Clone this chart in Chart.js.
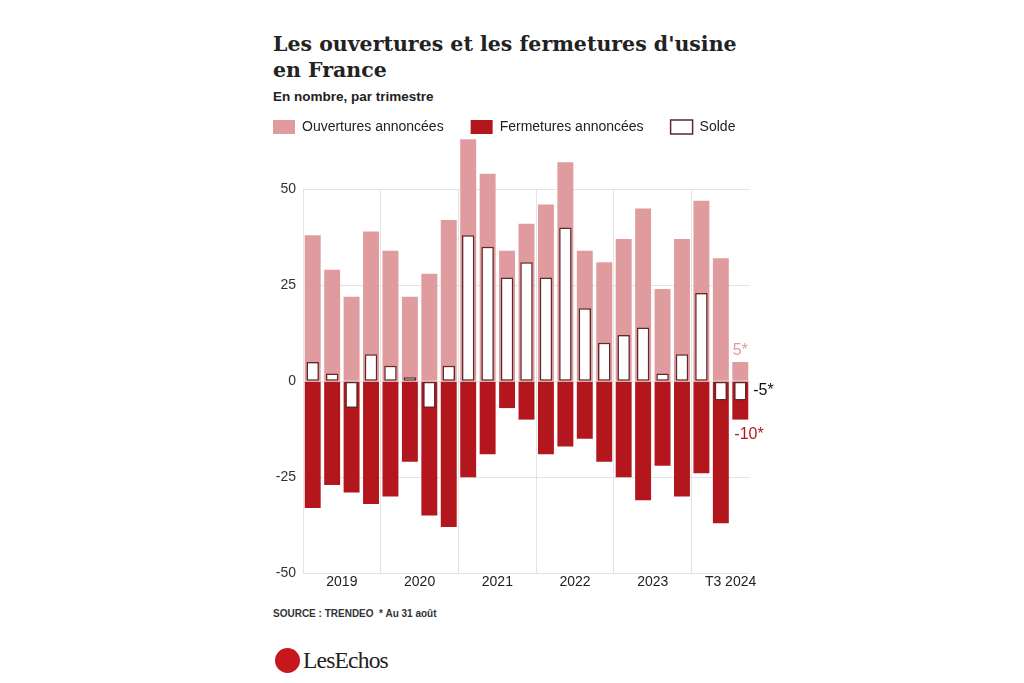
<!DOCTYPE html>
<html lang="fr">
<head>
<meta charset="utf-8">
<script src="https://cdn.jsdelivr.net/npm/chart.js@4.4.1/dist/chart.umd.min.js"></script>
<style>
  body { margin: 0; width: 1024px; height: 683px; background: #fff; position: relative; overflow: hidden; font-family: "Liberation Sans", Arial, sans-serif; }
  #title { position: absolute; left: 273px; top: 31px; margin: 0; font-family: "DejaVu Serif", serif; font-weight: bold; font-size: 20.5px; line-height: 26px; color: #222; }
  #subtitle { position: absolute; left: 273px; top: 89px; margin: 0; font-weight: bold; font-size: 13.5px; color: #222; }
  #wrap { position: absolute; left: 246px; top: 93px; width: 540px; height: 508px; }
  #source { position: absolute; left: 273px; top: 608px; font-size: 10px; font-weight: bold; color: #333; }
  #logo { position: absolute; left: 275px; top: 647px; display: flex; align-items: center; }
  #logo .dot { width: 25px; height: 25px; border-radius: 50%; background: #c8161d; }
  #logo .name { margin-left: 3px; font-family: "Liberation Serif", serif; font-size: 23.5px; color: #222; letter-spacing: -0.8px; }
</style>
</head>
<body>
<h1 id="title">Les ouvertures et les fermetures d'usine<br>en France</h1>
<p id="subtitle">En nombre, par trimestre</p>
<div id="wrap"><canvas id="chart"></canvas></div>
<div id="source">SOURCE : TRENDEO &nbsp;* Au 31 août</div>
<div id="logo"><div class="dot"></div><div class="name">LesEchos</div></div>

<script>
const quarters = [
  "T1 2019", "T2 2019", "T3 2019", "T4 2019",
  "T1 2020", "T2 2020", "T3 2020", "T4 2020",
  "T1 2021", "T2 2021", "T3 2021", "T4 2021",
  "T1 2022", "T2 2022", "T3 2022", "T4 2022",
  "T1 2023", "T2 2023", "T3 2023", "T4 2023",
  "T1 2024", "T2 2024", "T3 2024"
];
const yearLabels = ["2019", "2020", "2021", "2022", "2023", "T3 2024"];

const openings = [38, 29, 22, 39, 34, 22, 28, 42, 63, 54, 34, 41, 46, 57, 34, 31, 37, 45, 24, 37, 47, 32, 5];
const closings = [-33, -27, -29, -32, -30, -21, -35, -38, -25, -19, -7, -10, -19, -17, -15, -21, -25, -31, -22, -30, -24, -37, -10];
const balance = [5, 2, -7, 7, 4, 1, -7, 4, 38, 35, 27, 31, 27, 40, 19, 10, 12, 14, 2, 7, 23, -5, -5];

const pink = "#e09b9e";
const darkRed = "#b3161c";
const grey = "#e3e3e3";
const sans = "'Liberation Sans', Arial, sans-serif";

// each year label sits in the middle of a 4-quarter block, from its first quarter
const yearCenters = yearLabels.map((_, k) => {
  const year = String(2019 + k);
  const first = quarters.findIndex((q) => q.endsWith(year));
  return first + 1.5;
});

// the starred values of the last quarter
const lastNotes = {
  id: "lastNotes",
  afterDatasetsDraw(chart) {
    const ctx = chart.ctx;
    const last = quarters.length - 1;
    const open = chart.getDatasetMeta(0).data[last];
    const close = chart.getDatasetMeta(1).data[last];
    const bal = chart.getDatasetMeta(2).data[last];
    ctx.save();
    ctx.font = "16px " + sans;
    ctx.textBaseline = "middle";

    ctx.fillStyle = pink;
    ctx.textAlign = "center";
    ctx.fillText(openings[last] + "*", open.x, open.y - 11);

    ctx.fillStyle = "#111";
    ctx.textAlign = "left";
    ctx.fillText(balance[last] + "*", open.x + open.width / 2 + 5, (bal.y + bal.base) / 2);

    ctx.fillStyle = darkRed;
    ctx.fillText(closings[last] + "*", close.x - close.width / 2 + 2, close.y + 15);
    ctx.restore();
  }
};

new Chart(document.getElementById("chart"), {
  type: "bar",
  plugins: [lastNotes],
  data: {
    labels: quarters,
    datasets: [
      {
        label: "Ouvertures annoncées",
        data: openings,
        backgroundColor: pink,
        borderWidth: 0,
        grouped: false,
        barPercentage: 0.82,
        categoryPercentage: 1,
        clip: false,
        xAxisID: "x",
        yAxisID: "y",
        order: 2
      },
      {
        label: "Fermetures annoncées",
        data: closings,
        backgroundColor: darkRed,
        borderWidth: 0,
        grouped: false,
        barPercentage: 0.82,
        categoryPercentage: 1,
        clip: false,
        xAxisID: "x",
        yAxisID: "y",
        order: 1
      },
      {
        label: "Solde",
        data: balance,
        backgroundColor: "#ffffff",
        borderColor: "#5a2b2b",
        borderWidth: 1.5,
        borderSkipped: false,
        grouped: false,
        barPercentage: 0.64,
        categoryPercentage: 1,
        clip: false,
        xAxisID: "x",
        yAxisID: "y",
        order: 0
      }
    ]
  },
  options: {
    responsive: true,
    maintainAspectRatio: false,
    animation: false,
    layout: { padding: { left: 0, right: 0, top: 0, bottom: 9 } },
    plugins: {
      legend: {
        position: "top",
        align: "start",
        reverse: true,
        labels: {
          boxWidth: 22,
          boxHeight: 14,
          padding: 27,
          color: "#222",
          font: { family: sans, size: 14 }
        }
      },
      subtitle: {
        display: true,
        text: " ",
        position: "top",
        weight: 500,
        font: { size: 1 },
        padding: { top: 44, bottom: 0 }
      },
      tooltip: { enabled: false }
    },
    scales: {
      x: {
        type: "category",
        offset: true,
        ticks: { display: false },
        border: { display: false },
        grid: {
          offset: true,
          drawTicks: false,
          color: (c) => (c.index % 4 === 0 ? grey : "rgba(0,0,0,0)")
        }
      },
      years: {
        type: "linear",
        position: "bottom",
        offset: false,
        min: -0.5,
        max: quarters.length - 0.5,
        grid: { display: false, drawTicks: false },
        border: { display: false },
        afterBuildTicks: (scale) => {
          scale.ticks = yearCenters.map((v) => ({ value: v }));
        },
        ticks: {
          autoSkip: false,
          maxRotation: 0,
          padding: 1,
          color: "#222",
          font: { family: sans, size: 14 },
          callback: (value, index) => yearLabels[index]
        }
      },
      y: {
        min: -50,
        max: 50,
        afterFit: (scale) => { scale.width = 57; },
        border: { display: false },
        grid: { color: grey, drawTicks: false },
        ticks: {
          stepSize: 25,
          padding: 7,
          color: "#333",
          font: { family: sans, size: 14 },
          callback: (v) => String(v)
        }
      },
      spacer: {
        type: "linear",
        position: "right",
        afterFit: (scale) => { scale.width = 36; },
        grid: { display: false, drawTicks: false },
        border: { display: false },
        ticks: { display: false }
      }
    }
  }
});
</script>
</body>
</html>
